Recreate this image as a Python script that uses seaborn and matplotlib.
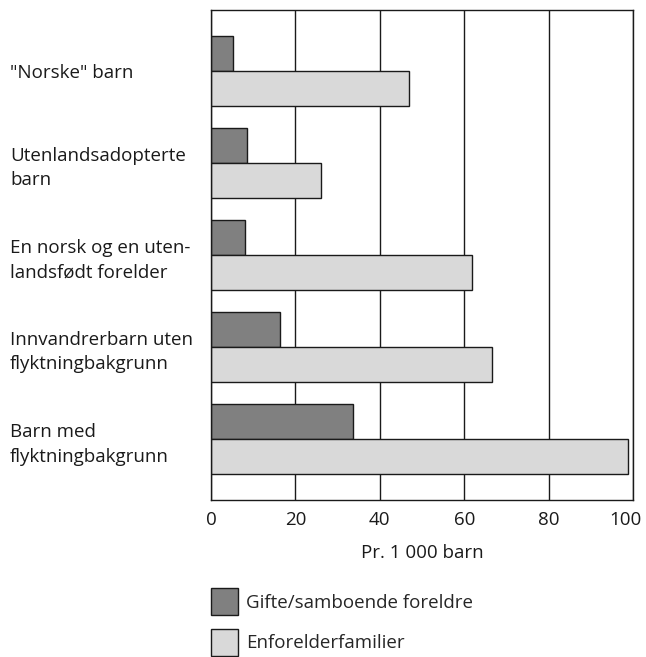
import pandas as pd
import matplotlib.pyplot as plt
import seaborn as sns
from matplotlib.ticker import MultipleLocator
from matplotlib.transforms import ScaledTranslation

# Data
kategorier = [
    '"Norske" barn',
    "Utenlandsadopterte\nbarn",
    "En norsk og en uten-\nlandsfødt forelder",
    "Innvandrerbarn uten\nflyktningbakgrunn",
    "Barn med\nflyktningbakgrunn",
]
gifte = [5.3, 8.5, 8.0, 16.4, 33.6]
enforelder = [47.0, 26.0, 61.8, 66.7, 98.7]
serier = ["Gifte/samboende foreldre", "Enforelderfamilier"]
farger = ["#808080", "#d9d9d9"]

df = pd.DataFrame({
    "Kategori": kategorier * 2,
    "Verdi": gifte + enforelder,
    "Gruppe": [serier[0]] * len(kategorier) + [serier[1]] * len(kategorier),
})

sns.set_style("white")
plt.rcParams["font.family"] = ["Open Sans", "DejaVu Sans"]
plt.rcParams["font.size"] = 13

fig = plt.figure(figsize=(6.46, 6.57), dpi=100)
ax = fig.add_axes([211 / 646, 1 - 500 / 657, 422 / 646, 490 / 657])

sns.barplot(
    data=df, x="Verdi", y="Kategori", hue="Gruppe", orient="h",
    palette=farger, width=0.76, edgecolor="#1a1a1a", linewidth=1.0,
    saturation=1, ax=ax, legend=True,
)

ax.set_xlim(0, 100)
ax.set_ylim(4.66, -0.66)
ax.set_axisbelow(True)
ax.xaxis.set_major_locator(MultipleLocator(20))
ax.xaxis.set_minor_locator(MultipleLocator(10))
ax.grid(axis="x", which="major", color="#1a1a1a", linewidth=1.0)
ax.grid(axis="y", visible=False)
ax.tick_params(axis="x", which="major", length=0, pad=8, labelsize=13.5, colors="#1a1a1a")
ax.tick_params(axis="x", which="minor", direction="in", length=5, width=1, color="#1a1a1a")
ax.tick_params(axis="y", length=0, pad=144.7, labelsize=13.5, colors="#1a1a1a")
for lab in ax.get_yticklabels():
    lab.set_horizontalalignment("left")
    lab.set_linespacing(1.45)

for side in ["left", "right", "top", "bottom"]:
    ax.spines[side].set_visible(True)
    ax.spines[side].set_color("#1a1a1a")
    ax.spines[side].set_linewidth(1.0)

ax.set_xlabel("Pr. 1 000 barn", fontsize=13.5, color="#1a1a1a", labelpad=11)
ax.set_ylabel("")

handles, labels = ax.get_legend_handles_labels()
ax.get_legend().remove()
leg = fig.legend(
    handles, labels, loc="upper left", bbox_to_anchor=(211 / 646, 1 - 588 / 657),
    frameon=False, fontsize=13.5, handlelength=1.44, handleheight=1.85,
    handletextpad=0.45, labelspacing=0.72, borderaxespad=0, borderpad=0,
)

# the "100" label sits a little left so it stays inside the figure
fig.canvas.draw()
for lab in ax.get_xticklabels():
    if lab.get_text() == "100":
        lab.set_transform(lab.get_transform() + ScaledTranslation(-8 / 100, 0, fig.dpi_scale_trans))

fig.savefig("out.png", dpi=100)
